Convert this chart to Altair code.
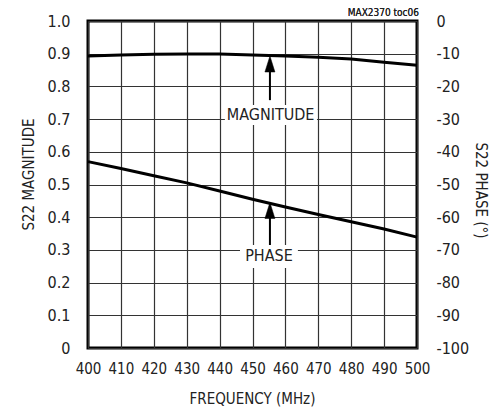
import altair as alt
import pandas as pd

freq = [400, 410, 420, 430, 440, 450, 460, 470, 480, 490, 500]
magnitude = [0.893, 0.896, 0.898, 0.899, 0.899, 0.896, 0.893, 0.889, 0.884, 0.874, 0.865]
phase = [-43.0, -45.1, -47.3, -49.5, -52.0, -54.5, -56.9, -59.2, -61.4, -63.6, -66.1]

x_ticks = list(range(400, 501, 10))
mag_ticks = [round(i * 0.1, 1) for i in range(11)]
phase_ticks = list(range(-100, 1, 10))

# annotation labels (data units, left scale)
labels = ["MAGNITUDE", "PHASE"]
label_x = [455.5, 455.0]
label_y = [0.713, 0.280]
box_x1 = [441.6, 446.2]
box_x2 = [469.6, 463.8]
box_y1 = [0.682, 0.245]
box_y2 = [0.743, 0.315]
arrow_x = [455.3, 455.3]
arrow_lo = [0.758, 0.315]
arrow_hi = [0.845, 0.398]
head_y = [0.8685, 0.4205]

FONT = "Liberation Sans Narrow, DejaVu Sans Condensed, Liberation Sans, sans-serif"

df = pd.DataFrame({"freq": freq, "mag": magnitude, "phase": phase})
ann = pd.DataFrame({
    "label": labels, "lx": label_x, "ly": label_y,
    "bx1": box_x1, "bx2": box_x2, "by1": box_y1, "by2": box_y2,
    "ax": arrow_x, "alo": arrow_lo, "ahi": arrow_hi, "hy": head_y,
})

xscale = alt.Scale(domain=[400, 500], nice=False, zero=False)
xaxis = alt.Axis(values=x_ticks, title="FREQUENCY (MHz)", grid=True, ticks=False,
                 labelPadding=13, domain=False, titleX=164, titleY=50,
                 titleBaseline="middle", titleAlign="center", labelOverlap=False,
                 labelFlush=False, labelFontSize=15)
yscale = alt.Scale(domain=[0, 1], nice=False)
yaxis = alt.Axis(values=mag_ticks, title="S22 MAGNITUDE", grid=True, ticks=False,
                 labelPadding=18, domain=False, titleAngle=270, titleX=-60, titleY=153,
                 titleBaseline="middle", titleAlign="center", labelOverlap=False,
                 labelFlush=False,
                 labelExpr="datum.value == 0 ? '0' : format(datum.value, '.1f')")


def X(field):
    return alt.X(field, type="quantitative", scale=xscale, axis=xaxis)


def Y(field):
    return alt.Y(field, type="quantitative", scale=yscale, axis=yaxis)


mag_line = alt.Chart(df).mark_line(color="black", strokeWidth=3).encode(
    x=X("freq"), y=Y("mag"))

boxes = alt.Chart(ann).mark_rect(fill="white").encode(
    x=X("bx1"), x2="bx2:Q", y=Y("by1"), y2="by2:Q")
texts = alt.Chart(ann).mark_text(font=FONT, fontSize=16, color="#222", baseline="middle").encode(
    x=X("lx"), y=Y("ly"), text="label:N")
rules = alt.Chart(ann).mark_rule(color="black", strokeWidth=2).encode(
    x=X("ax"), y=Y("alo"), y2="ahi:Q")
heads = alt.Chart(ann).mark_point(shape="M0,-8L-5,8L5,8Z", size=4, filled=True,
                                  fill="black", stroke="black", strokeWidth=0.5,
                                  opacity=1).encode(x=X("ax"), y=Y("hy"))
toc = alt.Chart(ann).mark_text(font=FONT, fontSize=10, color="#222", align="right",
                               baseline="alphabetic", text="MAX2370 toc06").encode(
    x=alt.value(331), y=alt.value(-5))

left = alt.layer(mag_line, boxes, texts, rules, heads, toc)

phase_line = alt.Chart(df).mark_line(color="black", strokeWidth=3).encode(
    x=X("freq"),
    y=alt.Y("phase:Q", scale=alt.Scale(domain=[-100, 0], nice=False),
            axis=alt.Axis(values=phase_ticks, orient="right", title="S22 PHASE (°)",
                          grid=False, ticks=False, labelPadding=19, domain=False,
                          titleAngle=90, titleX=63, titleY=169, titleBaseline="middle",
                          titleAlign="center", labelOverlap=False, labelFlush=False,
                          labelExpr="'' + datum.value")),
)

chart = alt.layer(left, phase_line).resolve_scale(y="independent").properties(
    width=329, height=327,
    autosize=alt.AutoSizeParams(type="none"),
    padding={"left": 80, "top": 13, "right": 78, "bottom": 62},
).configure_view(stroke="black", strokeWidth=3).configure_axis(
    labelFont=FONT, titleFont=FONT, labelFontSize=16, titleFontSize=15,
    labelColor="#222", titleColor="#222", titleFontWeight="normal",
    gridColor="#333", gridWidth=1.2, gridOpacity=1,
)

chart.save("out.html", embed_options={"renderer": "svg", "actions": False})
